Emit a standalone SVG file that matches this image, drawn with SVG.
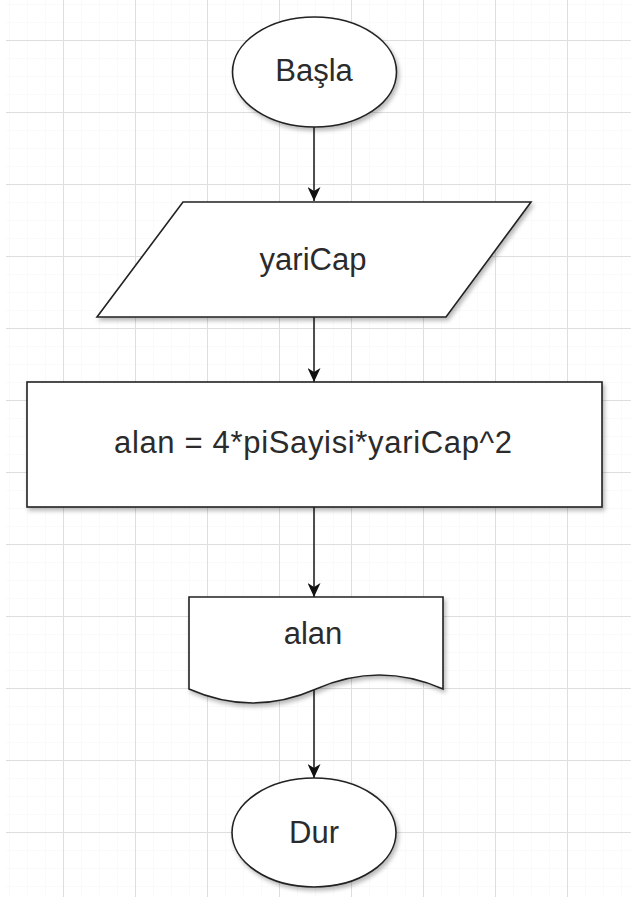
<svg xmlns="http://www.w3.org/2000/svg" width="631" height="899" viewBox="0 0 631 899">
  <defs>
    <pattern id="minor" x="-9" y="4" width="18" height="18" patternUnits="userSpaceOnUse">
      <path d="M0,0 V18 M0,0 H18" fill="none" stroke="#f5f5f5" stroke-width="1"/>
    </pattern>
    <pattern id="major" x="-9" y="40" width="72" height="72" patternUnits="userSpaceOnUse">
      <path d="M0.5,0 V72 M0,0.5 H72" fill="none" stroke="#dedede" stroke-width="1"/>
    </pattern>
    <filter id="shadow" x="-10%" y="-10%" width="125%" height="130%">
      <feDropShadow dx="2" dy="3" stdDeviation="2" flood-color="#000" flood-opacity="0.28"/>
    </filter>
    <marker id="arrow" viewBox="0 0 14 13" refX="14" refY="6.5" markerWidth="14" markerHeight="13" markerUnits="userSpaceOnUse" orient="auto">
      <path d="M0,0 L14,6.5 L0,13 L4,6.5 Z" fill="#111"/>
    </marker>
  </defs>
  <style>
    .shape { fill: #ffffff; stroke: #222222; stroke-width: 1.6; filter: url(#shadow); }
    .label { font-family: "Liberation Sans", Arial, sans-serif; font-size: 31px; fill: #2b2b2b; text-anchor: middle; }
    .edge { fill: none; stroke: #222222; stroke-width: 1.6; marker-end: url(#arrow); }
  </style>

  <rect x="0" y="0" width="631" height="899" fill="#ffffff"/>
  <rect x="6" y="0" width="625" height="897" fill="url(#minor)"/>
  <rect x="6" y="0" width="625" height="897" fill="url(#major)"/>

  <g id="connectors">
    <line class="edge" x1="314" y1="127" x2="314" y2="201"/>
    <line class="edge" x1="314" y1="317" x2="314" y2="382"/>
    <line class="edge" x1="314" y1="507" x2="314" y2="597"/>
    <line class="edge" x1="314" y1="690" x2="314" y2="778"/>
  </g>

  <g id="node-basla">
    <ellipse class="shape" cx="314.5" cy="72" rx="82" ry="55"/>
    <text class="label" x="314" y="81">Başla</text>
  </g>

  <g id="node-yaricap">
    <polygon class="shape" points="183,202 531,202 446,317 97,317"/>
    <text class="label" x="313" y="270">yariCap</text>
  </g>

  <g id="node-alan-hesap">
    <rect class="shape" x="27" y="382" width="575" height="125"/>
    <text class="label" x="313" y="453" textLength="398" lengthAdjust="spacing">alan = 4*piSayisi*yariCap^2</text>
  </g>

  <g id="node-alan-cikti">
    <path class="shape" d="M189,597 H443 V689 Q379.5,661 316,689 Q252.5,717 189,689 Z"/>
    <text class="label" x="313" y="644">alan</text>
  </g>

  <g id="node-dur">
    <ellipse class="shape" cx="314" cy="832.5" rx="82" ry="54.5"/>
    <text class="label" x="314" y="843">Dur</text>
  </g>
</svg>
